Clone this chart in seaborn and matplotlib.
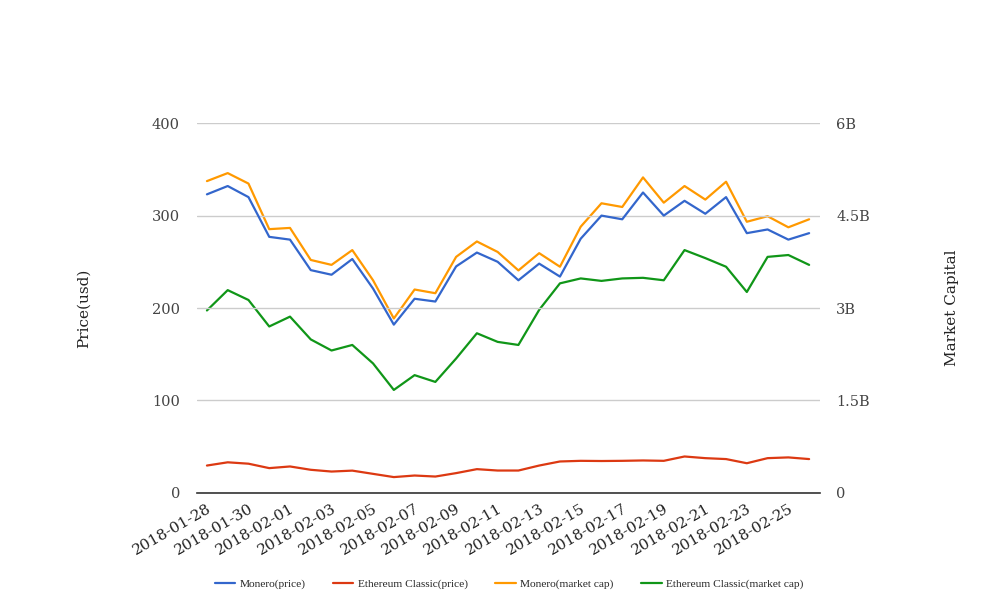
import pandas as pd
import numpy as np
import matplotlib.pyplot as plt
import matplotlib.ticker as mticker
import seaborn as sns

sns.set_theme(style="white")
plt.rcParams['font.family'] = ['DejaVu Serif']

# --- data ---
dates = pd.date_range("2018-01-28", "2018-02-26", freq="D")

monero_price = [323, 332, 320, 277, 274, 241, 236, 253, 221, 182,
                210, 207, 245, 260, 250, 230, 248, 234, 275, 300,
                296, 325, 300, 316, 302, 320, 281, 285, 274, 281]

etc_price = [29.5, 33, 31.5, 26.7, 28.5, 24.9, 23, 24, 20.5, 17,
             18.7, 17.6, 21.3, 25.6, 24.1, 24.1, 29.5, 33.9, 34.6, 34.4,
             34.6, 35, 34.6, 39.3, 37.5, 36.5, 32, 37.5, 38.3, 36.5]

# market caps in billions usd
monero_cap = [5.06, 5.19, 5.02, 4.28, 4.30, 3.78, 3.70, 3.94, 3.45, 2.83,
              3.30, 3.24, 3.83, 4.08, 3.91, 3.61, 3.89, 3.67, 4.32, 4.70,
              4.64, 5.12, 4.71, 4.98, 4.76, 5.05, 4.40, 4.49, 4.31, 4.44]

etc_cap = [2.96, 3.29, 3.13, 2.70, 2.86, 2.49, 2.31, 2.40, 2.10, 1.67,
           1.91, 1.80, 2.18, 2.59, 2.45, 2.40, 2.97, 3.40, 3.48, 3.44,
           3.48, 3.49, 3.45, 3.94, 3.81, 3.67, 3.26, 3.83, 3.86, 3.70]

price_labels = ["Monero(price)", "Ethereum Classic(price)"]
cap_labels = ["Monero(market cap)", "Ethereum Classic(market cap)"]
colors = ["#3366cc", "#dc3912", "#ff9900", "#109618"]

price_df = pd.DataFrame({
    "date": list(dates) * 2,
    "value": monero_price + etc_price,
    "series": [price_labels[0]] * len(dates) + [price_labels[1]] * len(dates),
})
cap_df = pd.DataFrame({
    "date": list(dates) * 2,
    "value": [v * 1e9 for v in monero_cap + etc_cap],
    "series": [cap_labels[0]] * len(dates) + [cap_labels[1]] * len(dates),
})

fig = plt.figure(figsize=(10.08, 6.16), dpi=100)
ax = fig.add_axes([0.195, 0.200, 0.618, 0.600])
ax2 = ax.twinx()

sns.lineplot(data=price_df, x="date", y="value", hue="series",
             palette=colors[:2], linewidth=1.6, ax=ax, legend=False)
sns.lineplot(data=cap_df, x="date", y="value", hue="series",
             palette=colors[2:], linewidth=1.6, ax=ax2, legend=False)

# draw the price lines above the cap axis
ax.set_zorder(ax2.get_zorder() + 1)
ax.patch.set_visible(False)

ax.set_ylim(0, 400)
ax2.set_ylim(0, 6e9)
ax.set_yticks([0, 100, 200, 300, 400])
ax2.set_yticks([0, 1.5e9, 3e9, 4.5e9, 6e9])
ax2.yaxis.set_major_formatter(mticker.FuncFormatter(
    lambda v, p: "0" if v == 0 else f"{v / 1e9:g}B"))

ax.set_xlim(dates[0] - pd.Timedelta(hours=12), dates[-1] + pd.Timedelta(hours=12))
ax.set_xticks(dates[::2][:15])
ax.set_xticklabels([d.strftime("%Y-%m-%d") for d in dates[::2][:15]],
                   rotation=30, ha="right", rotation_mode="anchor")

ax.yaxis.grid(True, color="#cccccc", linewidth=1)
ax.xaxis.grid(False)
ax2.grid(False)

for a in (ax, ax2):
    for s in ["top", "left", "right", "bottom"]:
        a.spines[s].set_visible(False)
    a.tick_params(length=0, labelsize=10.5, labelcolor="#444444")
ax.spines["bottom"].set_visible(True)
ax.spines["bottom"].set_color("#333333")
ax.spines["bottom"].set_linewidth(1.2)
ax.tick_params(axis="y", pad=12)
ax2.tick_params(axis="y", pad=12)
ax.tick_params(axis="x", pad=6, labelsize=11, labelcolor="#222222")

ax.set_xlabel("")
ax.set_ylabel("Price(usd)", fontsize=11, color="#222222", labelpad=44)
ax2.set_ylabel("Market Capital", fontsize=11, color="#222222", labelpad=54)

handles = [plt.Line2D([], [], color=c, linewidth=1.6) for c in colors]
fig.legend(handles, price_labels + cap_labels, loc="center",
           bbox_to_anchor=(0.505, 0.052), ncol=4, frameon=False,
           prop={"family": "Liberation Serif", "size": 8.2},
           handlelength=1.8, columnspacing=2.4, handletextpad=0.4)

plt.savefig("out.png", dpi=100)
plt.close()
